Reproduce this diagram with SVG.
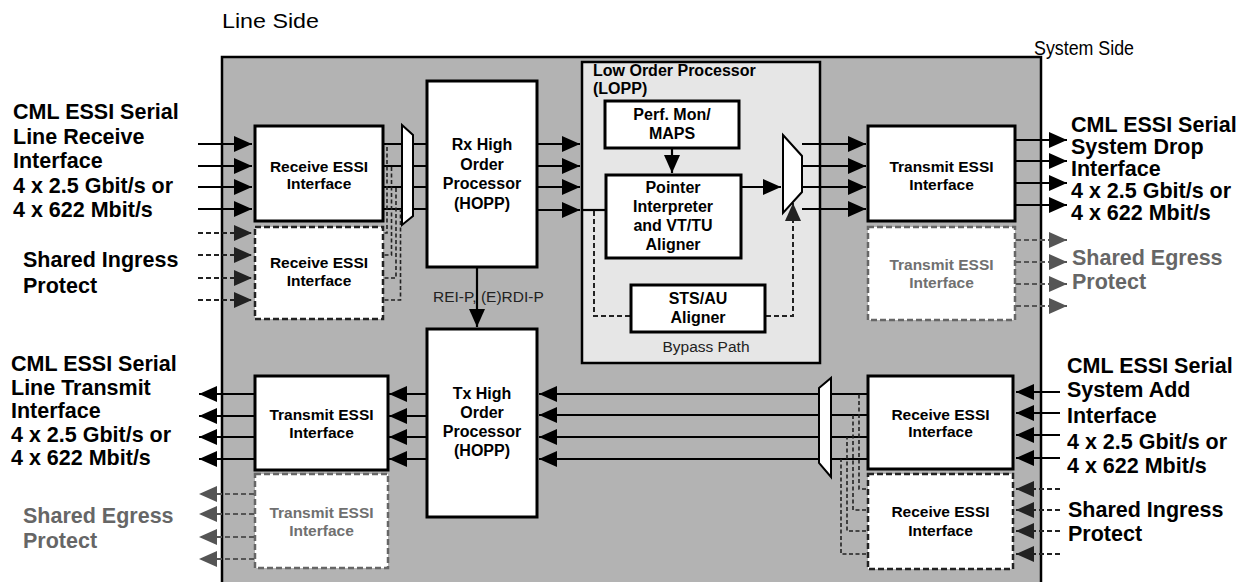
<svg xmlns="http://www.w3.org/2000/svg" width="1247" height="582" viewBox="0 0 1247 582">
<style>
text{font-family:"Liberation Sans",Arial,Helvetica,sans-serif}
.lbl{font-size:21.5px;font-weight:bold;fill:#000}
.lblg{font-size:21.5px;font-weight:bold;fill:#666}
.bx{font-size:15.5px;font-weight:bold;fill:#000;text-anchor:middle}
.bxg{font-size:15.5px;font-weight:bold;fill:#707070;text-anchor:middle}
.big{font-size:16px;font-weight:bold;fill:#000;text-anchor:middle}
.reg{font-weight:normal;fill:#222}
.solid{fill:#fff;stroke:#000;stroke-width:3}
.dash{fill:#fff;stroke:#222;stroke-width:2.5;stroke-dasharray:6,3}
.dashg{fill:#fff;stroke:#666;stroke-width:2.5;stroke-dasharray:6,3}
.mux{fill:#fff;stroke:#000;stroke-width:2}
.w{fill:none;stroke:#000;stroke-width:2.2}
.wd{fill:none;stroke:#222;stroke-width:1.6;stroke-dasharray:4,2.5}
.wdd{fill:none;stroke:#222;stroke-width:2;stroke-dasharray:5,3}
.wg{fill:none;stroke:#555;stroke-width:2;stroke-dasharray:5,3}
</style>
<defs>
<marker id="ah" viewBox="0 0 18 16" refX="18" refY="8" markerWidth="18" markerHeight="16" markerUnits="userSpaceOnUse" orient="auto"><path d="M0,0 L18,8 L0,16 z" fill="#000"/></marker>
<marker id="ahd" viewBox="0 0 18 16" refX="18" refY="8" markerWidth="18" markerHeight="16" markerUnits="userSpaceOnUse" orient="auto"><path d="M0,0 L18,8 L0,16 z" fill="#222"/></marker>
<marker id="ahg" viewBox="0 0 18 16" refX="18" refY="8" markerWidth="18" markerHeight="16" markerUnits="userSpaceOnUse" orient="auto"><path d="M0,0 L18,8 L0,16 z" fill="#555"/></marker>
</defs>
<rect width="1247" height="582" fill="#fff"/>

<g id="chip"><rect x="222" y="57" width="819" height="540" fill="#b3b3b3" stroke="#000" stroke-width="2.5"/></g>
<g id="lopp"><rect x="582" y="62" width="238" height="301" fill="#e6e6e6" stroke="#000" stroke-width="2.5"/>
<text x="593" y="75.5" font-size="16" font-weight="bold">Low Order Processor</text>
<text x="593" y="94" font-size="16" font-weight="bold">(LOPP)</text>
<text x="706" y="352" font-size="15.5" text-anchor="middle" class="reg">Bypass Path</text></g>

<g id="side-labels">
<text x="222" y="28" font-size="20" textLength="97" lengthAdjust="spacingAndGlyphs">Line Side</text>
<text x="1034" y="55" font-size="20" textLength="100" lengthAdjust="spacingAndGlyphs">System Side</text>
</g>

<g id="line-rx-label">
<text class="lbl" x="13" y="119">CML ESSI Serial</text>
<text class="lbl" x="13" y="143.5">Line Receive</text>
<text class="lbl" x="13" y="168">Interface</text>
<text class="lbl" x="13" y="192.5">4 x 2.5 Gbit/s or</text>
<text class="lbl" x="13" y="217">4 x 622 Mbit/s</text>
<text class="lbl" x="23" y="267">Shared Ingress</text>
<text class="lbl" x="23" y="293">Protect</text>
</g>
<g id="line-tx-label">
<text class="lbl" x="11" y="371">CML ESSI Serial</text>
<text class="lbl" x="11" y="394.5">Line Transmit</text>
<text class="lbl" x="11" y="418">Interface</text>
<text class="lbl" x="11" y="442">4 x 2.5 Gbit/s or</text>
<text class="lbl" x="11" y="465">4 x 622 Mbit/s</text>
<text class="lblg" x="23" y="523">Shared Egress</text>
<text class="lblg" x="23" y="548">Protect</text>
</g>
<g id="sys-drop-label">
<text class="lbl" x="1071" y="132">CML ESSI Serial</text>
<text class="lbl" x="1071" y="154">System Drop</text>
<text class="lbl" x="1071" y="176">Interface</text>
<text class="lbl" x="1071" y="198">4 x 2.5 Gbit/s or</text>
<text class="lbl" x="1071" y="220">4 x 622 Mbit/s</text>
<text class="lblg" x="1072" y="265">Shared Egress</text>
<text class="lblg" x="1072" y="289">Protect</text>
</g>
<g id="sys-add-label">
<text class="lbl" x="1067" y="373">CML ESSI Serial</text>
<text class="lbl" x="1067" y="397">System Add</text>
<text class="lbl" x="1067" y="423">Interface</text>
<text class="lbl" x="1067" y="449">4 x 2.5 Gbit/s or</text>
<text class="lbl" x="1067" y="473">4 x 622 Mbit/s</text>
<text class="lbl" x="1068" y="517">Shared Ingress</text>
<text class="lbl" x="1068" y="541">Protect</text>
</g>

<g id="connectors">
<path class="w" marker-end="url(#ah)" d="M198,144 H252"/>
<path class="w" marker-end="url(#ah)" d="M198,166 H252"/>
<path class="w" marker-end="url(#ah)" d="M198,187 H252"/>
<path class="w" marker-end="url(#ah)" d="M198,209 H252"/>
<path class="wdd" marker-end="url(#ahd)" d="M198,233 H252"/>
<path class="wdd" marker-end="url(#ahd)" d="M198,255 H252"/>
<path class="wdd" marker-end="url(#ahd)" d="M198,278 H252"/>
<path class="wdd" marker-end="url(#ahd)" d="M198,300 H252"/>
<path class="w" d="M383,144 H402 M383,166 H402 M383,187 H402 M383,209 H402"/>
<path class="w" d="M413,144 H427 M413,166 H427 M413,187 H427 M413,209 H427"/>
<path class="wd" d="M384.5,233 H387 V144 M384.5,255 H391.5 V166 M384.5,278 H396 V187 M384.5,300 H400.5 V209"/>
<path class="w" marker-end="url(#ah)" d="M538,144 H580"/>
<path class="w" marker-end="url(#ah)" d="M538,166 H580"/>
<path class="w" marker-end="url(#ah)" d="M538,187 H580"/>
<path class="w" marker-end="url(#ah)" d="M538,210 H580"/>
<path class="w" d="M582,210 H605"/>
<path class="wdd" d="M594,211 V316 H630"/>
<path class="w" marker-end="url(#ah)" d="M672,149 V173"/>
<path class="w" marker-end="url(#ah)" d="M741,187 H781"/>
<path class="wdd" marker-end="url(#ahd)" d="M766,316 H793 V203"/>
<path class="w" marker-end="url(#ah)" d="M802,144 H866"/>
<path class="w" marker-end="url(#ah)" d="M802,166 H866"/>
<path class="w" marker-end="url(#ah)" d="M802,187 H866"/>
<path class="w" marker-end="url(#ah)" d="M802,209 H866"/>
<path class="w" marker-end="url(#ah)" d="M1015,140 H1067"/>
<path class="w" marker-end="url(#ah)" d="M1015,161 H1067"/>
<path class="w" marker-end="url(#ah)" d="M1015,183 H1067"/>
<path class="w" marker-end="url(#ah)" d="M1015,205 H1067"/>
<path class="wg" marker-end="url(#ahg)" d="M1016,240 H1067"/>
<path class="wg" marker-end="url(#ahg)" d="M1016,262 H1067"/>
<path class="wg" marker-end="url(#ahg)" d="M1016,284 H1067"/>
<path class="wg" marker-end="url(#ahg)" d="M1016,306 H1067"/>
<path class="w" marker-end="url(#ah)" d="M477,268 V327"/>
<path class="w" marker-end="url(#ah)" d="M1060,392 H1016"/>
<path class="w" marker-end="url(#ah)" d="M1060,413 H1016"/>
<path class="w" marker-end="url(#ah)" d="M1060,435 H1016"/>
<path class="w" marker-end="url(#ah)" d="M1060,458 H1016"/>
<path class="wdd" marker-end="url(#ahd)" d="M1060,489 H1016"/>
<path class="wdd" marker-end="url(#ahd)" d="M1060,510 H1016"/>
<path class="wdd" marker-end="url(#ahd)" d="M1060,531 H1016"/>
<path class="wdd" marker-end="url(#ahd)" d="M1060,554 H1016"/>
<path class="w" d="M867,394 H831 M867,415 H831 M867,437 H831 M867,459 H831"/>
<path class="wd" d="M866,489 H859 V394 M866,510 H853 V415 M866,531 H847 V437 M866,554 H841 V459"/>
<path class="w" marker-end="url(#ah)" d="M819,394 H539"/>
<path class="w" marker-end="url(#ah)" d="M819,415 H539"/>
<path class="w" marker-end="url(#ah)" d="M819,437 H539"/>
<path class="w" marker-end="url(#ah)" d="M819,459 H539"/>
<path class="w" marker-end="url(#ah)" d="M427,394 H389"/>
<path class="w" marker-end="url(#ah)" d="M427,416 H389"/>
<path class="w" marker-end="url(#ah)" d="M427,437 H389"/>
<path class="w" marker-end="url(#ah)" d="M427,459 H389"/>
<path class="w" marker-end="url(#ah)" d="M255,394 H199"/>
<path class="w" marker-end="url(#ah)" d="M255,416 H199"/>
<path class="w" marker-end="url(#ah)" d="M255,437 H199"/>
<path class="w" marker-end="url(#ah)" d="M255,459 H199"/>
<path class="wg" marker-end="url(#ahg)" d="M254,494 H199"/>
<path class="wg" marker-end="url(#ahg)" d="M254,514 H199"/>
<path class="wg" marker-end="url(#ahg)" d="M254,537 H199"/>
<path class="wg" marker-end="url(#ahg)" d="M254,559 H199"/>
<text x="433" y="302" font-size="15.5" class="reg">REI-P, (E)RDI-P</text>
</g>

<g id="rx-essi-line"><rect class="solid" x="255" y="126" width="128" height="95"/>
<text class="bx" x="319" y="172">Receive ESSI</text><text class="bx" x="319" y="189">Interface</text></g>
<g id="rx-essi-line-protect"><rect class="dash" x="255" y="227" width="128" height="92"/>
<text class="bx" x="319" y="268">Receive ESSI</text><text class="bx" x="319" y="286">Interface</text></g>
<g id="mux-line-rx"><polygon class="mux" points="402,125 413,135 413,216 402,225"/></g>
<g id="rx-hopp"><rect class="solid" x="427" y="81" width="110" height="186"/>
<text class="big" x="482" y="150">Rx High</text><text class="big" x="482" y="169.5">Order</text>
<text class="big" x="482" y="189">Processor</text><text class="big" x="482" y="208.5">(HOPP)</text></g>
<g id="perf-mon"><rect class="solid" x="605" y="101" width="134" height="47"/>
<text class="big" x="672" y="119.5">Perf. Mon/</text><text class="big" x="672" y="138.5">MAPS</text></g>
<g id="pointer"><rect class="solid" x="606" y="175" width="135" height="83"/>
<text class="big" x="673" y="193">Pointer</text><text class="big" x="673" y="212">Interpreter</text>
<text class="big" x="673" y="230.5">and VT/TU</text><text class="big" x="673" y="249.5">Aligner</text></g>
<g id="sts-au"><rect class="solid" x="631" y="285" width="134" height="47"/>
<text class="big" x="698" y="303.5">STS/AU</text><text class="big" x="698" y="323">Aligner</text></g>
<g id="mux-lopp"><polygon class="mux" points="783,135 802,156 802,192 783,213" stroke-width="2.5"/></g>
<g id="tx-essi-sys"><rect class="solid" x="868" y="126" width="147" height="95"/>
<text class="bx" x="941.5" y="172">Transmit ESSI</text><text class="bx" x="941.5" y="189.5">Interface</text></g>
<g id="tx-essi-sys-protect"><rect class="dashg" x="868" y="227" width="147" height="93"/>
<text class="bxg" x="941.5" y="270">Transmit ESSI</text><text class="bxg" x="941.5" y="287.5">Interface</text></g>
<g id="tx-hopp"><rect class="solid" x="427" y="329" width="110" height="188"/>
<text class="big" x="482" y="398.5">Tx High</text><text class="big" x="482" y="417.5">Order</text>
<text class="big" x="482" y="436.5">Processor</text><text class="big" x="482" y="456">(HOPP)</text></g>
<g id="mux-sys-rx"><polygon class="mux" points="819,388 831,378 831,477 819,463"/></g>
<g id="rx-essi-sys"><rect class="solid" x="868" y="376" width="145" height="93"/>
<text class="bx" x="940.5" y="419.5">Receive ESSI</text><text class="bx" x="940.5" y="437">Interface</text></g>
<g id="rx-essi-sys-protect"><rect class="dash" x="868" y="474" width="145" height="95"/>
<text class="bx" x="940.5" y="517">Receive ESSI</text><text class="bx" x="940.5" y="536">Interface</text></g>
<g id="tx-essi-line"><rect class="solid" x="255" y="376" width="133" height="94"/>
<text class="bx" x="321.5" y="420">Transmit ESSI</text><text class="bx" x="321.5" y="437.5">Interface</text></g>
<g id="tx-essi-line-protect"><rect class="dashg" x="255" y="474" width="133" height="94"/>
<text class="bxg" x="321.5" y="517.5">Transmit ESSI</text><text class="bxg" x="321.5" y="536">Interface</text></g>
</svg>
